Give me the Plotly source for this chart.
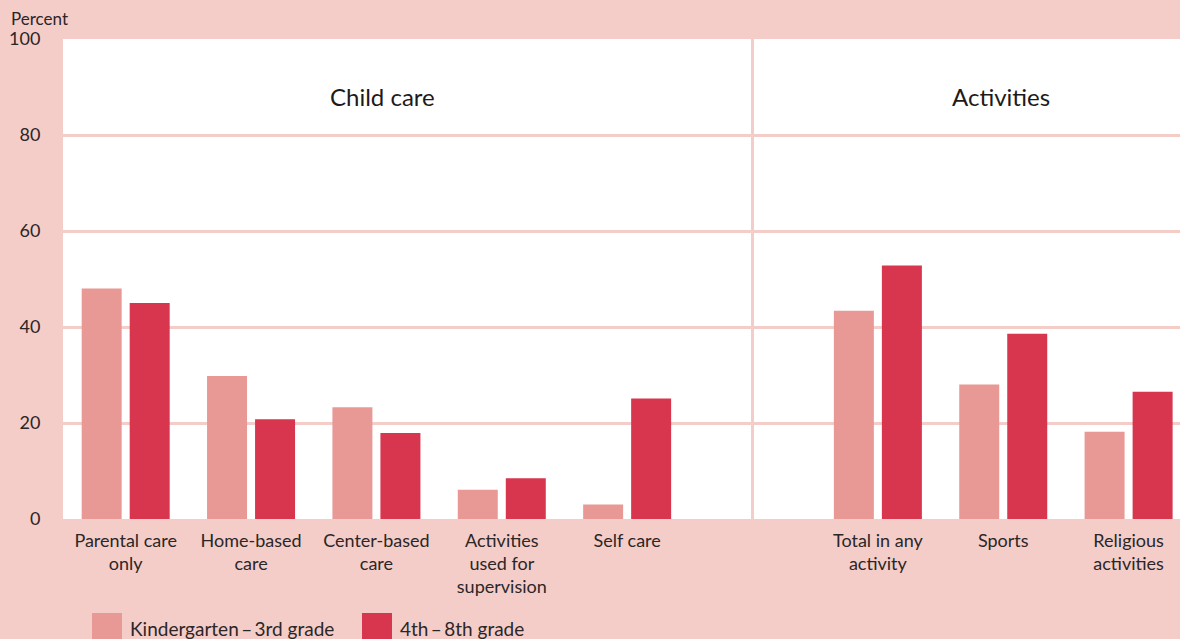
import plotly.graph_objects as go

# ---- data ----
categories = ["Parental care<br>only", "Home-based<br>care", "Center-based<br>care",
              "Activities<br>used for<br>supervision", "Self care", " ",
              "Total in any<br>activity", "Sports", "Religious<br>activities"]
series_names = ["Kindergarten\u2009\u2013\u20093rd grade", "4th\u2009\u2013\u20098th grade"]
k3_values = [48, 29.8, 23.3, 6.1, 3.0, None, 43.4, 28.0, 18.2]
g48_values = [45, 20.8, 17.9, 8.5, 25.1, None, 52.8, 38.6, 26.5]
y_ticks = [0, 20, 40, 60, 80, 100]
section_labels = ["Child care", "Activities"]

BG = "#f4cdc9"
PINK = "#e89996"
RED = "#d7364e"
TXT = "#2b2627"
FONT = "Lato"

fig = go.Figure()
for name, vals, col in [(series_names[0], k3_values, PINK), (series_names[1], g48_values, RED)]:
    fig.add_trace(go.Bar(x=categories, y=vals, name=name, marker=dict(color=col, line=dict(width=0)),
                         showlegend=False))

fig.update_layout(
    width=1180, height=639,
    paper_bgcolor=BG, plot_bgcolor="white",
    margin=dict(l=63, r=0, t=39, b=120),
    barmode="group", bargap=0.234, bargroupgap=0.167,
    font=dict(family=FONT, color=TXT, size=18),
)
fig.update_xaxes(type="category", categoryorder="array", categoryarray=categories,
                 range=[-0.5, 8.41], showgrid=False, zeroline=False, showline=False,
                 ticks="outside", ticklen=0, tickcolor=BG, ticklabelstandoff=5,
                 tickfont=dict(size=18, family=FONT, color=TXT))
fig.update_yaxes(range=[0, 100], tickvals=y_ticks, showgrid=True, gridcolor=BG, gridwidth=3,
                 zeroline=False, showline=False, ticks="outside", ticklen=0, ticklabelstandoff=18,
                 tickfont=dict(size=18, family=FONT, color=TXT))

# divider between sections (at the empty category)
fig.add_shape(type="line", xref="x", yref="y", x0=5, x1=5, y0=0, y1=100,
              line=dict(color=BG, width=3), layer="below")

# section titles
fig.add_annotation(x=2.05, y=88, xref="x", yref="y", text=section_labels[0], showarrow=False,
                   font=dict(size=24, family=FONT, color="#1e1a1b"))
fig.add_annotation(x=6.98, y=88, xref="x", yref="y", text=section_labels[1], showarrow=False,
                   font=dict(size=24, family=FONT, color="#1e1a1b"))

# y-axis title
fig.add_annotation(x=-54 / 1117, y=1 + 21 / 480, xref="paper", yref="paper", text="Percent",
                   showarrow=False, xanchor="left", yanchor="middle",
                   font=dict(size=17, family=FONT, color=TXT))

# custom legend
leg = [(series_names[0], PINK, 92), (series_names[1], RED, 362)]
for name, col, px in leg:
    x0 = (px - 63) / 1117
    x1 = (px + 30 - 63) / 1117
    fig.add_shape(type="rect", xref="paper", yref="paper", x0=x0, x1=x1,
                  y0=-(639 - 519) / 480, y1=-(613 - 519) / 480,
                  fillcolor=col, line=dict(width=0))
    fig.add_annotation(x=(px + 36 - 63) / 1117, y=-(628 - 519) / 480, xref="paper", yref="paper",
                       text=name, showarrow=False, xanchor="left", yanchor="middle",
                       font=dict(size=19, family=FONT, color=TXT))

fig.write_html("out.html")
